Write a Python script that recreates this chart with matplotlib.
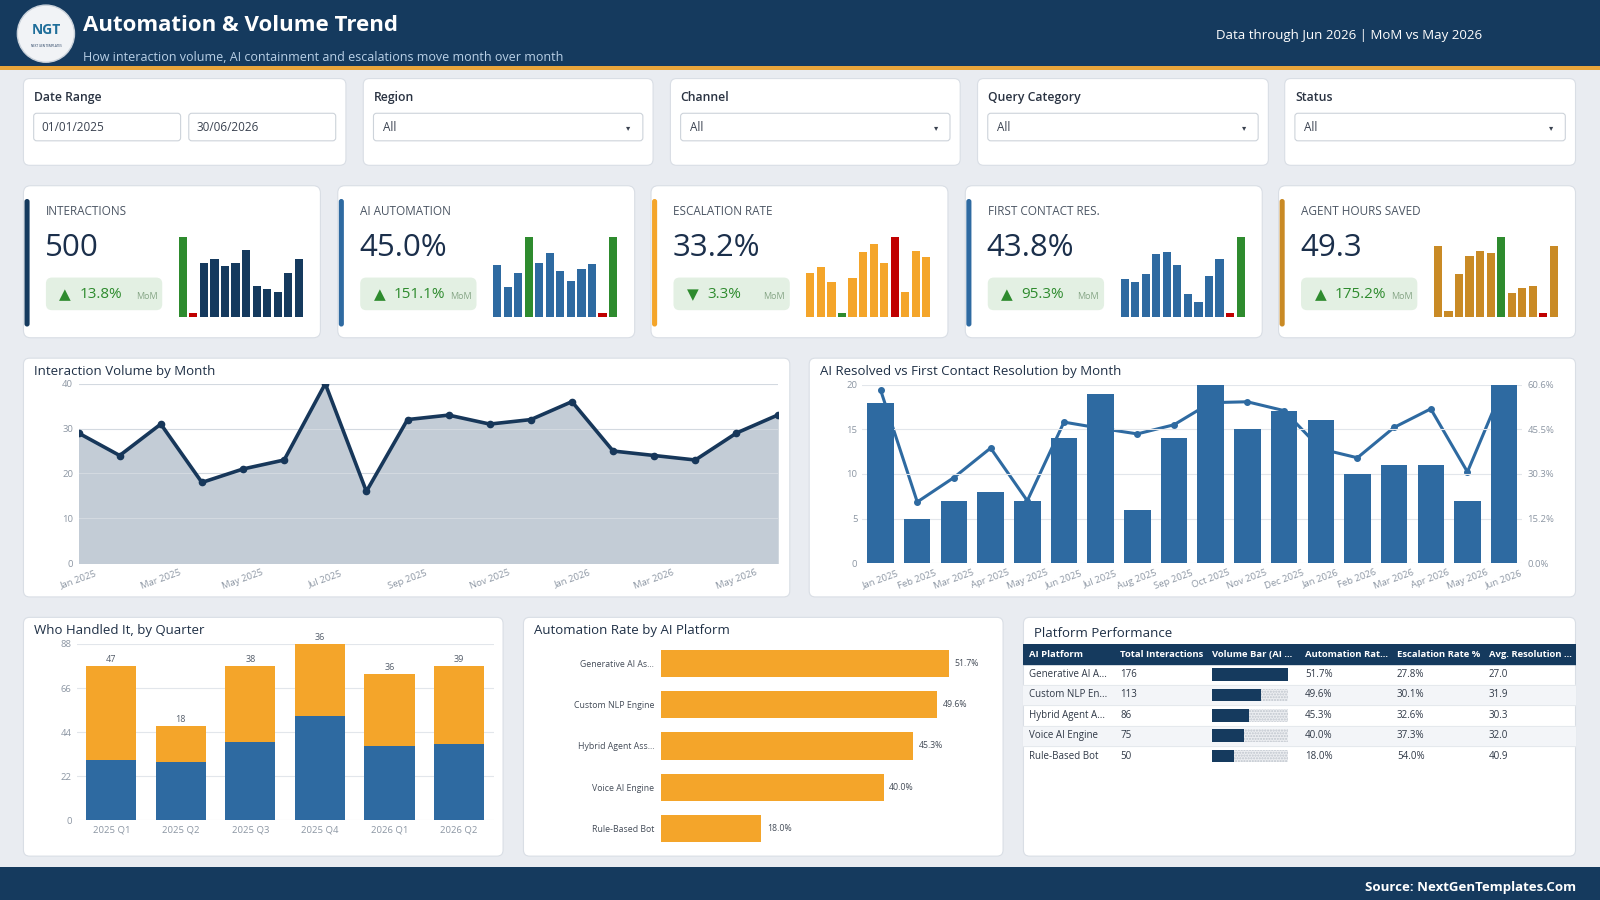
import numpy as np
import matplotlib.pyplot as plt
from matplotlib.patches import FancyBboxPatch, Rectangle, Circle

plt.rcParams['font.family'] = ['Open Sans', 'DejaVu Sans']

# reference canvas, layout is given in these pixel units
W, H = 1568, 882

months = ['Jan 2025', 'Feb 2025', 'Mar 2025', 'Apr 2025', 'May 2025', 'Jun 2025',
          'Jul 2025', 'Aug 2025', 'Sep 2025', 'Oct 2025', 'Nov 2025', 'Dec 2025',
          'Jan 2026', 'Feb 2026', 'Mar 2026', 'Apr 2026', 'May 2026', 'Jun 2026']
volume = [29, 24, 31, 18, 21, 23, 40, 16, 32, 33, 31, 32, 36, 25, 24, 23, 29, 33]
ai_resolved = [18, 5, 7, 8, 7, 14, 19, 6, 14, 20, 15, 17, 16, 10, 11, 11, 7, 20]
fcr_rate = [58.8, 20.8, 29.1, 39.1, 21.2, 47.9, 45.8, 43.9, 47.0, 54.5, 54.8, 51.8,
            38.8, 35.8, 46.1, 52.4, 31.0, 60.6]

quarters = ['2025 Q1', '2025 Q2', '2025 Q3', '2025 Q4', '2026 Q1', '2026 Q2']
ai_handled = [30, 29, 39, 52, 37, 38]
agent_handled = [47, 18, 38, 36, 36, 39]

platforms = ['Generative AI As...', 'Custom NLP Engine', 'Hybrid Agent Ass...',
             'Voice AI Engine', 'Rule-Based Bot']
auto_rate = [51.7, 49.6, 45.3, 40.0, 18.0]

table_cols = ['AI Platform', 'Total Interactions', 'Volume Bar (AI ...',
              'Automation Rat...', 'Escalation Rate %', 'Avg. Resolution ...']
table_names = ['Generative AI A...', 'Custom NLP En...', 'Hybrid Agent A...',
               'Voice AI Engine', 'Rule-Based Bot']
total_inter = [176, 113, 86, 75, 50]
esc_rate = [27.8, 30.1, 32.6, 37.3, 54.0]
avg_res = [27.0, 31.9, 30.3, 32.0, 40.9]

kpi_labels = ['INTERACTIONS', 'AI AUTOMATION', 'ESCALATION RATE',
              'FIRST CONTACT RES.', 'AGENT HOURS SAVED']
kpi_values = ['500', '45.0%', '33.2%', '43.8%', '49.3']
kpi_changes = ['13.8%', '151.1%', '3.3%', '95.3%', '175.2%']
kpi_up = [True, True, False, True, True]
kpi_lower_better = [False, False, True, False, False]

# last 12 months, scaled min..max as in the card sparklines
spark_interactions = [1.00, 0.00, 0.68, 0.72, 0.64, 0.68, 0.84, 0.39, 0.35, 0.31, 0.55, 0.72]
spark_automation = [0.65, 0.38, 0.55, 1.00, 0.67, 0.80, 0.57, 0.45, 0.60, 0.66, 0.00, 1.00]
spark_escalation = [0.55, 0.62, 0.44, 0.00, 0.49, 0.81, 0.91, 0.67, 1.00, 0.32, 0.82, 0.75]
spark_fcr = [0.48, 0.44, 0.54, 0.79, 0.81, 0.65, 0.29, 0.19, 0.51, 0.72, 0.00, 1.00]
spark_hours = [0.89, 0.08, 0.54, 0.76, 0.82, 0.80, 1.00, 0.30, 0.36, 0.39, 0.00, 0.89]
sparks = [spark_interactions, spark_automation, spark_escalation, spark_fcr, spark_hours]

filter_labels = ['Date Range', 'Region', 'Channel', 'Query Category', 'Status']

NAVY = '#153A5E'
BLUE = '#2E6AA1'
ORANGE = '#F4A52A'
GOLD = '#C98A25'
GREEN = '#2E8B2E'
RED = '#C00000'
GRID = '#E2E6EB'
TICK = '#8C96A3'
TITLE = '#1E2F45'

fig = plt.figure(figsize=(16, 9), dpi=100)
fig.patch.set_facecolor('#E9ECF1')
bg = fig.add_axes([0, 0, 1, 1])
bg.set_xlim(0, W)
bg.set_ylim(H, 0)
bg.axis('off')


def rect(x, y, w, h, fc, ec='none', r=0, lw=0.8, z=1):
    if r:
        p = FancyBboxPatch((x, y), w, h, boxstyle=f'round,pad=0,rounding_size={r}',
                           fc=fc, ec=ec, lw=lw, zorder=z)
    else:
        p = Rectangle((x, y), w, h, fc=fc, ec=ec, lw=lw, zorder=z)
    bg.add_patch(p)


def px_axes(x, y, w, h):
    ax = fig.add_axes([x / W, 1 - (y + h) / H, w / W, h / H])
    ax.patch.set_alpha(0)
    return ax


def clean(ax):
    for s in ax.spines.values():
        s.set_visible(False)
    ax.tick_params(length=0, labelsize=6.8, colors=TICK)


# header / footer
rect(0, 0, W, 65, NAVY)
rect(0, 65, W, 3.5, '#E9A53B')
bg.add_patch(Circle((45, 33), 28, fc='#F1F3F6', ec='#C9D1DA', lw=1, zorder=2))
bg.text(45, 29, 'NGT', fontsize=10, weight='bold', color='#1F6E9A', ha='center', va='center', zorder=3)
bg.text(45, 45, 'NEXT GEN TEMPLATES', fontsize=2.2, color='#1F3A5C', ha='center', va='center', zorder=3)
bg.text(81, 25, 'Automation & Volume Trend', fontsize=16, weight='bold', color='white', va='center')
bg.text(81, 56, 'How interaction volume, AI containment and escalations move month over month',
        fontsize=9, color='#B9D0E6', va='center')
bg.text(1322, 35, 'Data through Jun 2026 | MoM vs May 2026', fontsize=9.5, color='white',
        ha='center', va='center')
rect(0, 850, W, 32, NAVY)
bg.text(1545, 870, 'Source: NextGenTemplates.Com', fontsize=9.5, weight='bold', color='white',
        ha='right', va='center')

# filters
fx = [23, 356, 657, 958, 1259]
fw = [316, 284, 284, 285, 285]
for i in range(5):
    rect(fx[i], 77, fw[i], 85, 'white', '#D9DEE5', r=6)
    bg.text(fx[i] + 10, 96, filter_labels[i], fontsize=8.8, weight='semibold', color='#2A3342', va='center')
    if i == 0:
        for bx, txt in [(33, '01/01/2025'), (185, '30/06/2026')]:
            rect(bx, 111, 144, 27, 'white', '#CDD3DA', r=3, z=2)
            bg.text(bx + 8, 125, txt, fontsize=8.5, color='#3A4250', va='center', zorder=3)
    else:
        rect(fx[i] + 10, 111, fw[i] - 20, 27, 'white', '#CDD3DA', r=3, z=2)
        bg.text(fx[i] + 19, 125, 'All', fontsize=8.5, color='#3A4250', va='center', zorder=3)
        bg.text(fx[i] + fw[i] - 24, 125, '▾', fontsize=6, color='#3A4250', va='center',
                ha='center', family='DejaVu Sans', zorder=3)

# KPI cards
kx = [23, 331, 638, 946, 1253]
accent = [NAVY, BLUE, ORANGE, BLUE, GOLD]
for i in range(5):
    x = kx[i]
    rect(x, 182, 291, 149, 'white', '#D9DEE5', r=7)
    rect(x + 1, 195, 5, 125, accent[i], r=2.5, z=2)
    bg.text(x + 22, 207, kpi_labels[i], fontsize=8.5, color='#4B5563', va='center')
    bg.text(x + 21, 243, kpi_values[i], fontsize=22.5, color='#1B2F4B', va='center')
    rect(x + 22, 272, 114, 32, '#E3F0E3', r=6, z=2)
    tri = '▲' if kpi_up[i] else '▼'
    bg.text(x + 41, 289, tri, fontsize=11, color=GREEN, ha='center', va='center',
            family='DejaVu Sans', zorder=3)
    bg.text(x + 55, 289, kpi_changes[i], fontsize=11, color=GREEN, va='center', zorder=3)
    bg.text(x + 110, 291, 'MoM', fontsize=6.5, color='#86A686', va='center', zorder=3)

    vals = np.array(sparks[i])
    best = vals.min() if kpi_lower_better[i] else vals.max()
    worst = vals.max() if kpi_lower_better[i] else vals.min()
    cols = [GREEN if v == best else RED if v == worst else accent[i] for v in vals]
    sax = px_axes(x + 151, 232, 124, 79)
    sax.bar(range(12), np.maximum(vals, 0.06), width=0.78, color=cols)
    sax.set_xlim(-0.5, 11.5)
    sax.set_ylim(0, 1)
    sax.axis('off')

# chart cards
for (x, y, w, h) in [(23, 351, 751, 234), (793, 351, 751, 234), (23, 605, 470, 234),
                     (513, 605, 470, 234), (1003, 605, 541, 234)]:
    rect(x, y, w, h, 'white', '#D9DEE5', r=6)

# Interaction Volume by Month
bg.text(33, 364, 'Interaction Volume by Month', fontsize=9.5, color=TITLE, va='center')
ax = px_axes(77, 376, 685, 176)
xs = np.arange(len(months))
ax.fill_between(xs, volume, color='#C3CCD6', zorder=1)
ax.plot(xs, volume, color='#17375A', lw=2.6, marker='o', ms=4.5, zorder=3)
ax.set_xlim(0, len(months) - 1)
ax.set_ylim(0, 40)
ax.set_yticks([0, 10, 20, 30, 40])
ax.set_xticks(xs[::2])
ax.set_xticklabels(months[::2], rotation=20, ha='center')
ax.set_axisbelow(False)
ax.grid(axis='y', color='#D3D9E0', lw=0.8, zorder=2)
clean(ax)
ax.tick_params(axis='y', pad=4)

# AI Resolved vs First Contact Resolution
bg.text(804, 364, 'AI Resolved vs First Contact Resolution by Month', fontsize=9.5, color=TITLE, va='center')
ax = px_axes(845, 377, 647, 175)
ax2 = ax.twinx()
ax.set_zorder(ax2.get_zorder() + 1)
ax.patch.set_visible(False)
ax.bar(xs, ai_resolved, width=0.72, color=BLUE, zorder=2)
ax2.plot(xs, fcr_rate, color=BLUE, lw=2.2, marker='o', ms=4)
ax.set_xlim(-0.5, len(months) - 0.5)
ax.set_ylim(0, 20)
ax.set_yticks([0, 5, 10, 15, 20])
ax.grid(axis='y', color=GRID, lw=0.8)
ax.set_axisbelow(True)
ax.set_xticks(xs)
ax.set_xticklabels(months, rotation=20, ha='center')
ax2.set_ylim(0, 60.6)
rt = np.linspace(0, 60.6, 5)
ax2.set_yticks(rt)
ax2.set_yticklabels([f'{v:.1f}%' for v in rt])
clean(ax)
clean(ax2)

# Who Handled It, by Quarter
bg.text(33, 618, 'Who Handled It, by Quarter', fontsize=9.5, color=TITLE, va='center')
ax = px_axes(75, 631, 409, 173)
qx = np.arange(len(quarters))
ax.bar(qx, ai_handled, width=0.72, color=BLUE)
ax.bar(qx, agent_handled, width=0.72, bottom=ai_handled, color=ORANGE)
for q, a, g in zip(qx, ai_handled, agent_handled):
    ax.text(q, a + g + 1, str(g), fontsize=6.5, color='#555E6B', ha='center', va='bottom', clip_on=False)
ax.set_xlim(-0.5, len(quarters) - 0.5)
ax.set_ylim(0, 88)
ax.set_yticks([0, 22, 44, 66, 88])
ax.set_xticks(qx)
ax.set_xticklabels(quarters)
ax.grid(axis='y', color=GRID, lw=0.8)
ax.set_axisbelow(True)
clean(ax)

# Automation Rate by AI Platform
bg.text(523, 618, 'Automation Rate by AI Platform', fontsize=9.5, color=TITLE, va='center')
ax = px_axes(648, 630, 327, 202)
py = np.arange(len(platforms))
ax.barh(py, auto_rate, height=0.66, color=ORANGE)
for yv, v in zip(py, auto_rate):
    ax.text(v + 1, yv, f'{v:.1f}%', fontsize=6.3, color='#444C58', va='center')
ax.set_ylim(len(platforms) - 0.5, -0.5)
ax.set_xlim(0, 60)
ax.set_yticks(py)
ax.set_yticklabels(platforms)
ax.set_xticks([])
clean(ax)
ax.tick_params(axis='y', labelsize=6.3, colors='#444C58', pad=5)

# Platform Performance table
bg.text(1013, 621, 'Platform Performance', fontsize=9.5, color=TITLE, va='center')
ax = px_axes(1003, 631, 541, 120)
ax.set_xlim(0, 541)
ax.set_ylim(6, 0)
ax.axis('off')
ax.add_patch(Rectangle((0, 0), 541, 1, color=NAVY))
col_x = [5, 95, 185, 276, 366, 456]
for cx, c in zip(col_x, table_cols):
    ax.text(cx, 0.5, c, fontsize=6.8, weight='bold', color='white', va='center')
for r in range(len(table_names)):
    yc = r + 1.5
    if r % 2 == 1:
        ax.add_patch(Rectangle((0, r + 1), 541, 1, color='#F3F5F8', zorder=0))
    ax.axhline(r + 2, color='#E3E7EC', lw=0.6)
    ax.text(col_x[0], yc, table_names[r], fontsize=7, color='#2F3846', va='center')
    ax.text(col_x[1], yc, str(total_inter[r]), fontsize=7, color='#2F3846', va='center')
    ax.text(col_x[3], yc, f'{auto_rate[r]:.1f}%', fontsize=7, color='#2F3846', va='center')
    ax.text(col_x[4], yc, f'{esc_rate[r]:.1f}%', fontsize=7, color='#2F3846', va='center')
    ax.text(col_x[5], yc, f'{avg_res[r]:.1f}', fontsize=7, color='#2F3846', va='center')
rows = np.arange(len(table_names)) + 1.5
ax.barh(rows, 74, left=col_x[2], height=0.62, fc='#ECEEF1', ec='#BFC5CD', lw=0, hatch='......')
ax.barh(rows, np.array(total_inter) / max(total_inter) * 74, left=col_x[2], height=0.62, color=NAVY)

fig.savefig('out.png', dpi=100, facecolor=fig.get_facecolor())
